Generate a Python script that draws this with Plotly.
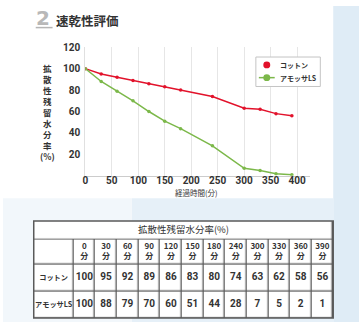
import plotly.graph_objects as go

# ---- data ----
minutes = [0, 30, 60, 90, 120, 150, 180, 240, 300, 330, 360, 390]
cotton = [100, 95, 92, 89, 86, 83, 80, 74, 63, 62, 58, 56]
amossa = [100, 88, 79, 70, 60, 51, 44, 28, 7, 5, 2, 1]
series_names = ["コットン", "アモッサLS"]
x_ticks = [0, 50, 100, 150, 200, 250, 300, 350, 400]
y_ticks = [20, 40, 60, 80, 100, 120]
table_title = "拡散性残留水分率(%)"
title_text = "速乾性評価"
y_title_chars = ["拡", "散", "性", "残", "留", "水", "分", "率", "(%)"]
x_title = "経過時間(分)"
unit = "分"

W, H = 359, 322
RED = "#e2122b"
GREEN = "#7cb84a"
TXT = "#333333"
GRID_LINE = "#5a5a5a"
JP = "Noto Sans CJK JP"
NUM = "Roboto"


def px(x):
    return x / W


def py(y):
    return 1 - y / H


fig = go.Figure()

# ---- line chart ----
fig.add_trace(go.Scatter(x=minutes, y=cotton, mode="lines+markers", name=series_names[0],
                         line=dict(color=RED, width=1.5), marker=dict(size=3.5, color=RED),
                         showlegend=False, xaxis="x", yaxis="y"))
fig.add_trace(go.Scatter(x=minutes, y=amossa, mode="lines+markers", name=series_names[1],
                         line=dict(color=GREEN, width=1.5), marker=dict(size=3.5, color=GREEN),
                         showlegend=False, xaxis="x", yaxis="y"))

# ---- table (drawn on its own axes) ----
col_w = [40] + [21.77] * len(minutes)
x_edges = [0.0]
for w in col_w:
    x_edges.append(x_edges[-1] + w)
row_h = [19, 25, 28, 27]   # title, header, cotton, amossa
y_edges = [0.0]
for h in row_h:
    y_edges.append(y_edges[-1] + h)
x_cent = [(x_edges[i] + x_edges[i + 1]) / 2 for i in range(len(col_w))]
y_cent = [(y_edges[i] + y_edges[i + 1]) / 2 for i in range(len(row_h))]
white = [[0, "white"], [1, "white"]]

# title row cell
fig.add_trace(go.Heatmap(x=[x_edges[0], x_edges[-1]], y=[y_edges[0], y_edges[1]], z=[[0]],
                         colorscale=white, showscale=False, xgap=1.3, ygap=1.3,
                         hoverinfo="skip", xaxis="x2", yaxis="y2"))
# grid cells
fig.add_trace(go.Heatmap(x=x_edges, y=y_edges[1:], z=[[0] * len(col_w) for _ in range(3)],
                         colorscale=white, showscale=False, xgap=1.3, ygap=1.3,
                         hoverinfo="skip", xaxis="x2", yaxis="y2"))
# title text
fig.add_trace(go.Scatter(x=[(x_edges[0] + x_edges[-1]) / 2], y=[y_cent[0]], mode="text",
                         text=[table_title], textposition="middle center",
                         textfont=dict(family=JP, size=9.5, color=TXT),
                         showlegend=False, hoverinfo="skip", xaxis="x2", yaxis="y2"))
# header labels
fig.add_trace(go.Scatter(x=x_cent[1:], y=[y_cent[1]] * len(minutes), mode="text",
                         text=[f"{m}<br>{unit}" for m in minutes], textposition="middle center",
                         textfont=dict(family=JP, size=8, color=TXT, weight="bold"),
                         showlegend=False, hoverinfo="skip", xaxis="x2", yaxis="y2"))
# row labels
fig.add_trace(go.Scatter(x=[x_cent[0]] * 2, y=[y_cent[2], y_cent[3]], mode="text",
                         text=series_names, textposition="middle center",
                         textfont=dict(family=JP, size=7.2, color=TXT, weight="bold"),
                         showlegend=False, hoverinfo="skip", xaxis="x2", yaxis="y2"))
# values
fig.add_trace(go.Scatter(x=x_cent[1:] * 2, y=[y_cent[2]] * len(minutes) + [y_cent[3]] * len(minutes),
                         mode="text", text=[str(v) for v in cotton + amossa],
                         textposition="middle center",
                         textfont=dict(family=NUM, size=10, color=TXT, weight="bold"),
                         showlegend=False, hoverinfo="skip", xaxis="x2", yaxis="y2"))

TX0, TX1, TY0, TY1 = 31, 333, 219, 318

shapes = [
    # light-blue textured background areas
    dict(type="rect", xref="paper", yref="paper", x0=px(333), x1=1, y0=0, y1=1,
         fillcolor="#dfecf6", line=dict(width=0), layer="below"),
    dict(type="rect", xref="paper", yref="paper", x0=px(130), x1=px(333), y0=0, y1=py(196),
         fillcolor="#e6f0f8", line=dict(width=0), layer="below"),
    dict(type="rect", xref="paper", yref="paper", x0=0, x1=px(130), y0=0, y1=py(196),
         fillcolor="#f2f7fb", line=dict(width=0), layer="below"),
    # dark backing that shows through the cell gaps as grid lines
    dict(type="rect", xref="paper", yref="paper", x0=px(TX0), x1=px(TX1), y0=py(TY1), y1=py(TY0),
         fillcolor=GRID_LINE, line=dict(width=0), layer="below"),
    # outer frame of the table
    dict(type="rect", xref="paper", yref="paper", x0=px(TX0), x1=px(TX1), y0=py(TY1), y1=py(TY0),
         fillcolor="rgba(0,0,0,0)", line=dict(color=GRID_LINE, width=1.5), layer="above"),
    # icon underline
    dict(type="line", xref="paper", yref="paper", x0=px(33), x1=px(50), y0=py(22), y1=py(22),
         line=dict(color="#b5b5b5", width=1.5)),
    # legend box
    dict(type="rect", xref="paper", yref="paper", x0=px(255), x1=px(320), y0=py(82), y1=py(52),
         fillcolor="white", line=dict(color="#c4c4c4", width=1)),
    dict(type="circle", xref="paper", yref="paper", x0=px(262.5), x1=px(269.5), y0=py(63.5),
         y1=py(56.5), fillcolor=RED, line=dict(width=0)),
    dict(type="line", xref="paper", yref="paper", x0=px(258), x1=px(274), y0=py(73), y1=py(73),
         line=dict(color=GREEN, width=1.5)),
    dict(type="circle", xref="paper", yref="paper", x0=px(262.5), x1=px(269.5), y0=py(76.5),
         y1=py(69.5), fillcolor=GREEN, line=dict(width=0)),
]


def ann(text, x, y, size, family=JP, color=TXT, weight="normal", xanchor="center"):
    return dict(text=text, x=px(x), y=py(y), xref="paper", yref="paper", showarrow=False,
                xanchor=xanchor, yanchor="middle",
                font=dict(family=family, size=size, color=color, weight=weight))


annotations = [
    ann("2", 40, 12, 20, family="DejaVu Sans", color="#b8b8b8", weight="bold"),
    ann(title_text, 51, 15, 12.5, weight="bold", xanchor="left"),
    ann("<br>".join(y_title_chars), 45, 108, 8.5, weight="bold"),
    ann(x_title, 195, 190, 7.5),
    ann(series_names[0], 277, 60, 7, weight="bold", xanchor="left"),
    ann(series_names[1], 277, 73, 7, weight="bold", xanchor="left"),
]

fig.update_layout(
    width=W, height=H, margin=dict(l=0, r=0, t=0, b=0),
    paper_bgcolor="white", plot_bgcolor="rgba(0,0,0,0)",
    shapes=shapes, annotations=annotations, showlegend=False,
    xaxis=dict(domain=[px(83), px(310)], range=[0, 425], tickvals=x_ticks,
               showgrid=True, gridcolor="#e6e6e6", gridwidth=1, zeroline=False,
               showline=True, linecolor="#cccccc", linewidth=1, ticklabelstandoff=-5,
               tickfont=dict(family=NUM, size=10, color=TXT, weight="bold")),
    yaxis=dict(domain=[py(173), py(42)], range=[0, 120], tickvals=y_ticks,
               showgrid=False, zeroline=False, showline=True, linecolor="#e0e0e0",
               ticklabelstandoff=2,
               tickfont=dict(family=NUM, size=10, color=TXT, weight="bold")),
    xaxis2=dict(domain=[px(TX0), px(TX1)], range=[x_edges[0], x_edges[-1]], visible=False,
                anchor="y2", fixedrange=True),
    yaxis2=dict(domain=[py(TY1), py(TY0)], range=[y_edges[-1], y_edges[0]], visible=False,
                anchor="x2", fixedrange=True),
)

fig.write_html("out.html")
